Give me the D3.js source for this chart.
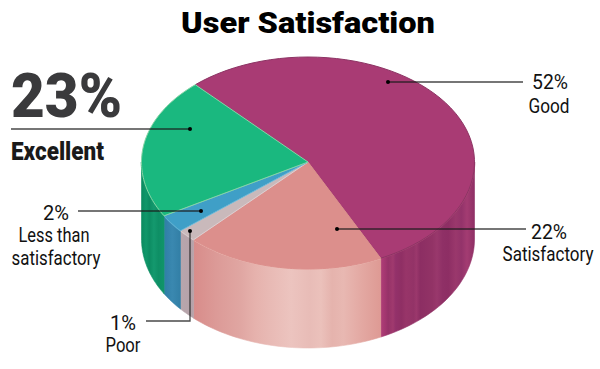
<!DOCTYPE html>
<html>
<head>
<meta charset="utf-8">
<script src="https://cdn.jsdelivr.net/npm/d3@7"></script>
<style>
  html, body { margin: 0; padding: 0; background: #fff; }
  svg { display: block; }
  text { font-family: Roboto, "Noto Sans", sans-serif; }
</style>
</head>
<body>
<div id="chart"></div>
<script>
const categories = ["Good", "Satisfactory", "Poor", "Less than satisfactory", "Excellent"];
const shares = [52, 22, 1, 2, 23];
const topColors = ["#a93b74", "#dc8f8c", "#c9b9bb", "#3f9fc7", "#1ab87f"];
const rimColors = ["#ad4a78", "#eebfb8", "#d3c6c9", "#4ba6cc", "#14a473"];
const edgeColors = ["#8d3464", "#dc8f8c", "#dcd0d2", "#6cb8d6", "#86d4a4"];

// the tilted 3D drawing skews the wedges, this is where their edges land on the face
const faceDegrees = [-42.6, 154.1, 223.4, 230, 239.8, 317.4];

const wallStops = [
  [[0, "#b03e78"], [.05, "#a2366f"], [.08, "#963268"], [.13, "#a03a6e"], [.16, "#93316a"], [.22, "#8f2f64"], [.27, "#983569"], [.35, "#933367"], [.38, "#9b386c"], [.42, "#8c2e63"], [.55, "#923366"], [.6, "#99386c"], [.66, "#8f3066"], [.72, "#8d2e64"], [.8, "#9a386c"], [.86, "#93336a"], [.92, "#a33c72"], [1, "#8f2f65"]],
  [[0, "#d88c8a"], [.12, "#dc9a97"], [.25, "#e0a6a2"], [.33, "#e6b2ad"], [.4, "#e8b9b4"], [.52, "#ecc4bf"], [.62, "#e8bcb7"], [.68, "#ebc1bb"], [.74, "#e5b3ad"], [.8, "#e8b8b2"], [.9, "#e3a8a2"], [1, "#de9a94"]],
  [[0, "#b8a6ac"], [1, "#b5a2a9"]],
  [[0, "#2f7ea6"], [.5, "#3a88b0"], [1, "#327fa6"]],
  [[0, "#0b8a60"], [.2, "#10976a"], [.35, "#0c8c62"], [.55, "#14996e"], [.75, "#0e8f65"], [1, "#109569"]]
];

const width = 600, height = 369;
const cx = 308, cy = 162, rx = 166.5, ryBack = 105, ryFront = 107, depth = 77;

const svg = d3.select("#chart")
  .append("svg")
  .attr("width", width)
  .attr("height", height);

const rad = d => d * Math.PI / 180;

const cumulative = [0, ...d3.cumsum(shares)];
const faceAngle = d3.scaleLinear()
  .domain(cumulative)
  .range(faceDegrees.map(rad));

const slices = shares.map((v, i) => ({
  name: categories[i],
  start: faceAngle(cumulative[i]),
  end: faceAngle(cumulative[i + 1]),
  i: i
}));

// front half of the rim bulges a little more than the back half
const edgeX = a => cx + rx * Math.sin(a);
const edgeY = a => {
  const c = Math.cos(a);
  return cy - (c < 0 ? ryFront : ryBack) * c;
};
// bottom edge sits lower in the middle because of the perspective
const bottomY = a => edgeY(a) + depth + Math.max(0, -Math.cos(a)) * 2;

const line = d3.line().x(d => d[0]).y(d => d[1]);
const sweep = (a0, a1, n) => d3.range(0, n + 1).map(k => a0 + (a1 - a0) * k / n);

// side walls, only the front half of the cylinder shows
const defs = svg.append("defs");

slices.forEach(s => {
  const angles = sweep(Math.max(s.start, rad(90)), Math.min(s.end, rad(270)), 40);
  const xs = angles.map(edgeX);
  const grad = defs.append("linearGradient")
    .attr("id", "wall" + s.i)
    .attr("gradientUnits", "userSpaceOnUse")
    .attr("x1", d3.min(xs)).attr("x2", d3.max(xs))
    .attr("y1", 0).attr("y2", 0);
  grad.selectAll("stop").data(wallStops[s.i]).join("stop")
    .attr("offset", d => d[0])
    .attr("stop-color", d => d[1]);

  const front = angles.map(a => [edgeX(a), edgeY(a)]);
  const back = angles.slice().reverse().map(a => [edgeX(a), bottomY(a)]);
  svg.append("path")
    .attr("d", line(front.concat(back)) + "Z")
    .attr("fill", `url(#wall${s.i})`)
    .attr("stroke", `url(#wall${s.i})`)
    .attr("stroke-width", .6);
  // light rim where wall meets the face
  svg.append("path")
    .attr("d", line(front))
    .attr("fill", "none")
    .attr("stroke", rimColors[s.i])
    .attr("stroke-width", 1.5);
});

// top face
svg.append("g")
  .selectAll("path")
  .data(slices)
  .join("path")
  .attr("d", s => line([[cx, cy], ...sweep(s.start, s.end, 60).map(a => [edgeX(a), edgeY(a)])]) + "Z")
  .attr("fill", s => topColors[s.i])
  .attr("stroke", s => edgeColors[s.i])
  .attr("stroke-width", 1);

// call-out lines
const leaders = [
  { pts: [[388, 82], [523, 82]], dot: [388, 82] },
  { pts: [[337, 229], [526, 229]], dot: [337, 229] },
  { pts: [[190, 231], [190, 321], [146, 321]], dot: [190, 231] },
  { pts: [[201, 211], [78, 211]], dot: [201, 211] },
  { pts: [[190, 129], [11, 129]], dot: [190, 129] }
];

leaders.forEach(l => {
  svg.append("path")
    .attr("d", line(l.pts))
    .attr("fill", "none")
    .attr("stroke", "#1c1c1c")
    .attr("stroke-opacity", .8)
    .attr("stroke-width", 1.3);
  svg.append("circle")
    .attr("cx", l.dot[0]).attr("cy", l.dot[1]).attr("r", 2)
    .attr("fill", "#000");
});

// text is condensed to the reference widths by a horizontal squeeze
const pct = d3.format("d");
const label = (str, x, y, w, size, weight, fill, anchor) => {
  const t = svg.append("text")
    .attr("text-anchor", anchor || "middle")
    .attr("font-size", size)
    .attr("font-weight", weight || 400)
    .attr("fill", fill || "#111")
    .text(str);
  const sx = w / t.node().getComputedTextLength();
  t.attr("transform", `translate(${x},${y}) scale(${sx},1)`);
};

label("User Satisfaction", 308, 32.5, 254, 29.5, 900, "#000");

label(pct(shares[4]) + "%", 11, 116.5, 111, 62, 900, "#3a3a3c", "start");
label(categories[4], 11, 160, 93, 25.5, 900, "#1a1a1a", "start");

label(pct(shares[0]) + "%", 550, 89, 36, 20);
label(categories[0], 549, 113, 41, 20);

label(pct(shares[1]) + "%", 549, 238.5, 36, 20);
label(categories[1], 548, 261, 91, 20);

label(pct(shares[3]) + "%", 56, 220, 26, 20);
label("Less than", 54, 242, 71, 20);
label("satisfactory", 56, 265, 89, 20);

label(pct(shares[2]) + "%", 123, 330, 26, 20);
label(categories[2], 123, 352, 35, 20);
</script>
</body>
</html>
